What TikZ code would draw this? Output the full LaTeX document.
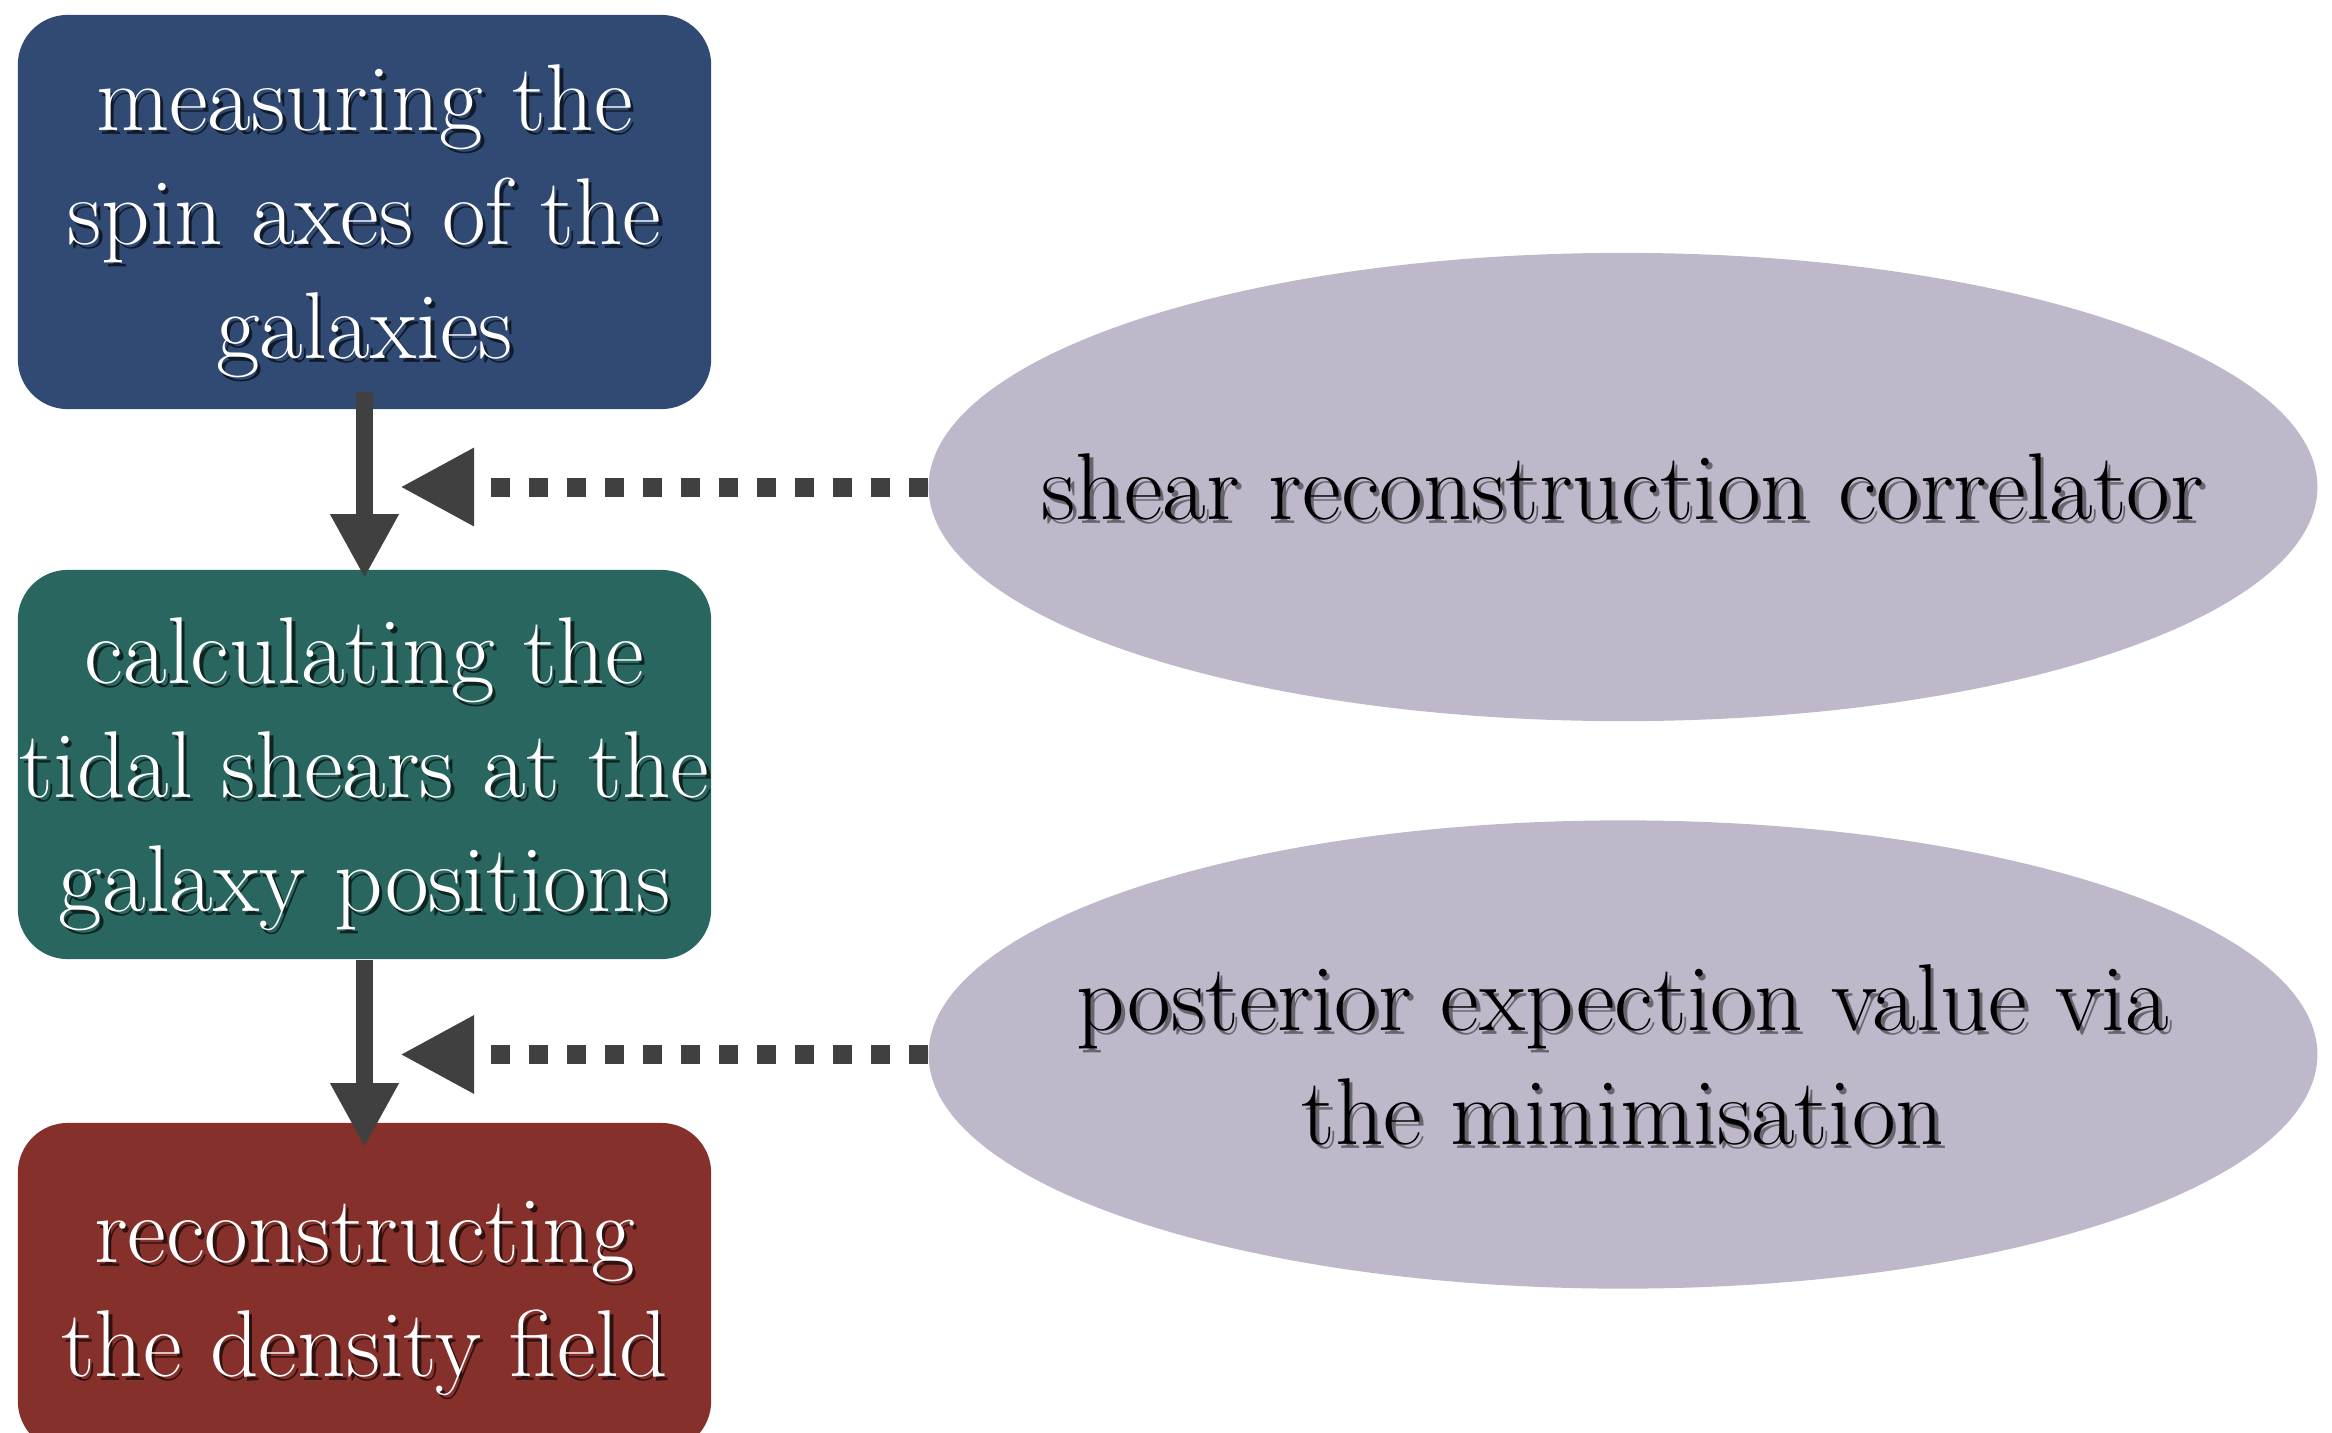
\documentclass[tikz,border=0pt]{standalone}
\usepackage{fontspec}
\usetikzlibrary{arrows.meta,shapes.geometric}
\definecolor{boxblue}{HTML}{304A74}
\definecolor{boxteal}{HTML}{28665F}
\definecolor{boxred}{HTML}{86302C}
\definecolor{lilac}{HTML}{BFB7CA}
\definecolor{arrowgray}{HTML}{404040}
\newcommand\shadowed[2]{%
  \leavevmode\raisebox{-0.12cm}[\height][\depth]{%
  \rlap{\kern0.035cm\raisebox{-0.04cm}{\color{#1}\begin{tabular}{@{}c@{}}#2\end{tabular}}}%
  \begin{tabular}{@{}c@{}}#2\end{tabular}}}
\begin{document}
\begin{tikzpicture}[x=0.01cm,y=-0.01cm,
  txt/.style={font=\fontsize{27}{32.4}\selectfont, inner sep=0pt},
  stepbox/.style={rounded corners=0.5cm, minimum width=6.93cm, inner sep=0pt, txt, text=white},
  oval/.style={ellipse, fill=lilac, minimum width=13.88cm, minimum height=4.68cm, inner sep=0pt},
  ovaltxt/.style={txt, text=black},
  flow/.style={draw=arrowgray, line width=0.16cm, -{Triangle[length=0.64cm,width=0.64cm]}},
  hint/.style={draw=arrowgray, line width=0.19cm, dash pattern=on 0.19cm off 0.19cm, -{Triangle[length=0.74cm,width=0.73cm]}}
]
\useasboundingbox (0,0) rectangle (2332,1433);
% boxes
\node[stepbox, fill=boxblue, minimum height=3.94cm] (b1) at (364.5,212)
  {\shadowed{boxblue!35!black}{measuring the\\spin axes of the\\galaxies}};
\node[stepbox, fill=boxteal, minimum height=3.89cm] (b2) at (364.5,764.5)
  {\shadowed{boxteal!35!black}{calculating the\\tidal shears at the\\galaxy positions}};
\node[stepbox, fill=boxred, minimum height=3.28cm] (b3) at (364.5,1287)
  {\shadowed{boxred!35!black}{reconstructing\\the density field}};
% ellipses
\node[oval] (e1) at (1623,487) {};
\node[oval] (e2) at (1623,1054.5) {};
\node[ovaltxt] (e1t) at (e1) {\shadowed{lilac!55!black}{shear reconstruction correlator}};
\node[ovaltxt] (e2t) at (e2) {\shadowed{lilac!55!black}{posterior expection value via\\the minimisation}};
% connectors
\draw[flow] ([yshift=0.18cm]b1.south) -- ([yshift=-0.09cm]b2.north);
\draw[flow] (b2.south) -- ([yshift=-0.25cm]b3.north);
\coordinate (t1) at (400,487);
\coordinate (t2) at (400,1054.5);
\draw[hint] (e1.west) -- (t1);
\draw[hint] (e2.west) -- (t2);
\end{tikzpicture}
\end{document}
